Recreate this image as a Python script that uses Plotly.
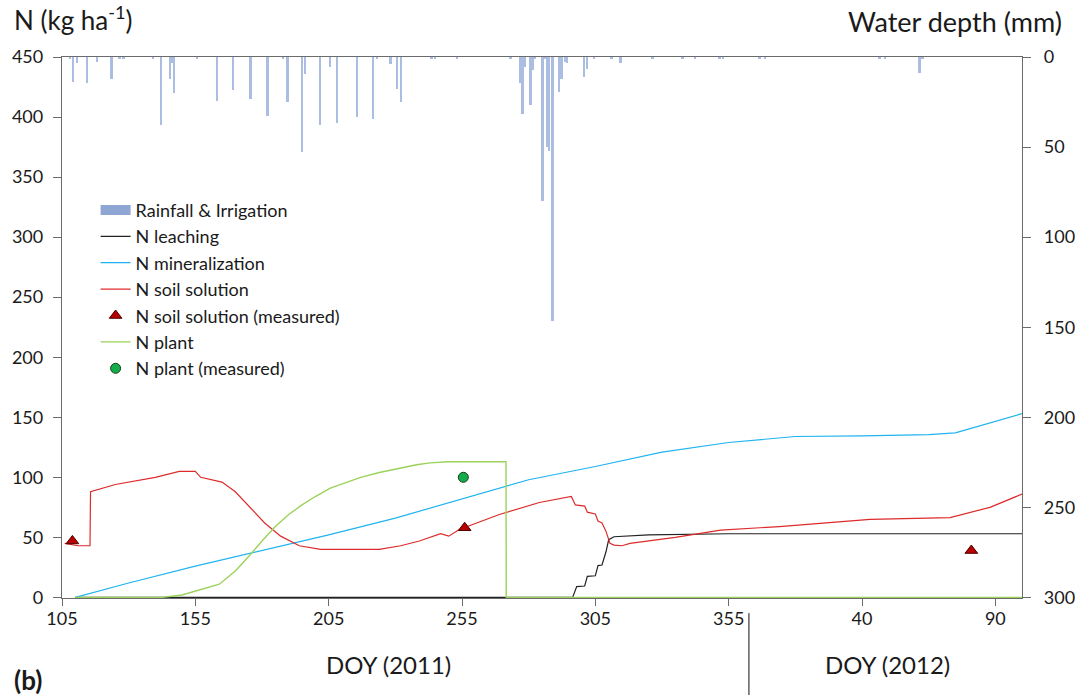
import plotly.graph_objects as go

# ---------------- data ----------------
# continuous day axis: 2011 DOY, 2012 DOY = value - 365
rain_day = [108.1, 109.1, 110.8, 114.4, 118.1, 123.7, 126.6, 128.1, 139.2, 142.1,
            145.6, 146.2, 147.1, 155.6, 163.2, 169.3, 175.8, 182.2, 187.9, 189.7,
            195.2, 196.2, 201.8, 205.6, 208.1, 215.6, 221.6, 223.2, 228.3, 230.8,
            232.1, 243.7, 244.9, 253.1, 273.3, 277.0, 277.8, 278.8, 280.8, 281.5,
            282.4, 285.3, 286.1, 287.0, 287.8, 289.0, 291.5, 292.4, 293.6, 294.5,
            300.8, 302.0, 304.5, 311.1, 314.5, 326.5, 337.8, 342.4, 351.7, 352.9,
            366.7, 368.6, 411.7, 413.6, 426.7, 427.8]
rain_mm = [1.0, 14.0, 3.6, 14.6, 3.0, 12.0, 1.0, 1.0, 1.0, 37.5,
           12.4, 3.5, 19.8, 1.0, 24.2, 18.3, 23.5, 32.7, 1.0, 24.8,
           52.7, 9.4, 37.5, 5.4, 36.4, 33.4, 34.6, 1.0, 3.7, 17.6,
           24.8, 1.2, 1.0, 0.8, 0.8, 14.3, 31.6, 5.7, 26.6, 7.0,
           1.0, 80.2, 1.0, 50.1, 52.0, 146.8, 19.2, 12.4, 2.8, 3.3,
           11.3, 6.5, 0.8, 1.0, 3.3, 0.8, 0.8, 1.0, 0.8, 0.8,
           0.8, 0.8, 0.8, 0.8, 8.7, 1.0]

leach_day = [110, 296.5, 298, 301, 302, 305, 306, 307.5, 309, 310, 312, 325, 355, 465]
leach_n = [0, 0, 9, 9.5, 17.5, 18, 26.5, 27, 38, 48, 50.5, 52, 53, 53]

mineral_day = [110, 130, 155, 180, 205, 230, 255, 280, 305, 330, 355, 380, 405, 430, 440, 448, 455, 465]
mineral_n = [0, 12, 26, 39, 52, 66, 82, 98, 109, 121, 129, 134, 134.5, 135.5, 137, 142, 147, 153]

soil_day = [106, 111, 115.5, 115.7, 125, 140, 149, 155, 157, 165, 170, 175.6, 181, 187,
            194, 202, 224, 232, 239, 247, 250, 254, 269, 284, 296, 297.5, 301, 302,
            305, 306, 307.5, 309, 310, 310.5, 312, 315, 318, 335, 352, 374, 408, 438,
            453, 465]
soil_n = [45, 43, 43, 88, 94, 100, 105, 105, 100, 96, 88, 75, 62, 51,
          43, 40, 40, 43, 47, 53, 51, 56.5, 69, 79, 84, 77, 76, 71,
          69.5, 63.5, 62, 55, 48, 45, 43.5, 43, 45, 50, 56, 59, 65, 66.5,
          75, 86]

plant_day = [110, 142.5, 150, 155, 160, 164, 170, 175, 180, 185, 190, 195, 200, 205.6,
             212, 217, 224, 232, 238, 243, 250, 271.5, 271.6, 465]
plant_n = [0, 0, 2, 5, 8, 11, 22, 34, 47, 59, 69, 77, 84, 91,
           96, 100, 104, 108, 110.5, 112, 113, 113, 0, 0]

soil_meas_day = [108.9, 256, 446]
soil_meas_n = [47, 58, 39]

plant_meas_day = [255.5]
plant_meas_n = [100]

x_tick_vals = [105, 155, 205, 255, 305, 355, 405, 455]
x_tick_text = ['105', '155', '205', '255', '305', '355', '40', '90']
y_tick_vals = [0, 50, 100, 150, 200, 250, 300, 350, 400, 450]
y2_tick_vals = [0, 50, 100, 150, 200, 250, 300]

# ---------------- figure ----------------
FONT = "Lato"
AXC = "#6b6b6b"
TXT = "#1a1a1a"

fig = go.Figure()

fig.add_trace(go.Bar(x=rain_day, y=rain_mm, yaxis="y2", width=0.7,
                     marker=dict(color="#abbde1", line=dict(width=0)),
                     name="Rainfall & Irrigation", showlegend=False))
# legend-only patch for the rainfall bars
fig.add_trace(go.Scatter(x=[None], y=[None], mode="lines",
                         line=dict(color="#8fa5d3", width=10),
                         name="Rainfall & Irrigation", legendrank=1))
fig.add_trace(go.Scatter(x=leach_day, y=leach_n, mode="lines",
                         line=dict(color="#222222", width=1.2),
                         name="N leaching", legendrank=2))
fig.add_trace(go.Scatter(x=mineral_day, y=mineral_n, mode="lines",
                         line=dict(color="#1fb4ef", width=1.2),
                         name="N mineralization", legendrank=3))
fig.add_trace(go.Scatter(x=soil_day, y=soil_n, mode="lines",
                         line=dict(color="#dd2a2a", width=1.2),
                         name="N soil solution", legendrank=4))
fig.add_trace(go.Scatter(x=plant_day, y=plant_n, mode="lines",
                         line=dict(color="#9bd25a", width=1.4),
                         name="N plant", legendrank=6))
fig.add_trace(go.Scatter(x=soil_meas_day, y=soil_meas_n, mode="markers",
                         marker=dict(symbol="triangle-up", size=11, color="#b80000",
                                     line=dict(color="#4a0000", width=1)),
                         name="N soil solution (measured)", legendrank=5))
fig.add_trace(go.Scatter(x=plant_meas_day, y=plant_meas_n, mode="markers",
                         marker=dict(symbol="circle", size=10, color="#12ad4a",
                                     line=dict(color="#1b3d1f", width=1)),
                         name="N plant (measured)", legendrank=7))

fig.update_layout(
    width=1075, height=695,
    margin=dict(l=62, r=53, t=57, b=97, autoexpand=False),
    paper_bgcolor="white", plot_bgcolor="white",
    font=dict(family=FONT, size=18, color=TXT),
    bargap=0,
    xaxis=dict(range=[105, 465], tickvals=x_tick_vals, ticktext=x_tick_text,
               automargin=False,
               showline=True, linecolor=AXC, linewidth=1.3, mirror=True,
               ticks="outside", ticklen=7, tickcolor=AXC, tickwidth=1.3,
               showgrid=False, zeroline=False, layer="below traces",
               ticklabelstandoff=-3,
               tickfont=dict(family=FONT, size=18, color=TXT)),
    yaxis=dict(range=[-0.5, 450], tickvals=y_tick_vals, automargin=False,
               showline=True, linecolor=AXC, linewidth=1.3,
               ticks="outside", ticklen=8, tickcolor=AXC, tickwidth=1.3,
               showgrid=False, zeroline=False, layer="below traces",
               ticklabelstandoff=6,
               tickfont=dict(family=FONT, size=18, color=TXT)),
    yaxis2=dict(range=[300.33, 0], tickvals=y2_tick_vals, overlaying="y", side="right",
                automargin=False,
                showline=True, linecolor=AXC, linewidth=1.3,
                ticks="outside", ticklen=8, tickcolor=AXC, tickwidth=1.3,
                showgrid=False, zeroline=False, ticklabelstandoff=9,
                tickfont=dict(family=FONT, size=18, color=TXT)),
    legend=dict(x=0.035, y=0.751, xanchor="left", yanchor="top",
                bgcolor="rgba(0,0,0,0)", font=dict(family=FONT, size=18, color=TXT),
                tracegroupgap=0),
    showlegend=True,
)

annos = [
    dict(text="N (kg ha<sup>-1</sup>)", x=-0.052, y=1.071, xanchor="left", yanchor="middle",
         font=dict(size=26)),
    dict(text="Water depth (mm)", x=1.044, y=1.066, xanchor="right", yanchor="middle",
         font=dict(size=27)),
    dict(text="DOY (2011)", x=0.3406, y=-0.122, xanchor="center", yanchor="middle",
         font=dict(size=24)),
    dict(text="DOY (2012)", x=0.86, y=-0.122, xanchor="center", yanchor="middle",
         font=dict(size=24)),
    dict(text="<b>(b)</b>", x=-0.052, y=-0.152, xanchor="left", yanchor="middle",
         font=dict(size=26)),
]
for a in annos:
    a.update(xref="paper", yref="paper", showarrow=False)
    fig.add_annotation(**a)

fig.add_shape(type="line", xref="x", yref="paper", x0=362.6, x1=362.6,
              y0=-0.028, y1=-0.18, line=dict(color="#111111", width=1))

# remove the browser's default 8 px body margin so the figure fills the window
fig.write_html("out.html",
               config={"displayModeBar": False},
               post_script="document.body.style.margin='0';document.body.style.overflow='hidden';")
